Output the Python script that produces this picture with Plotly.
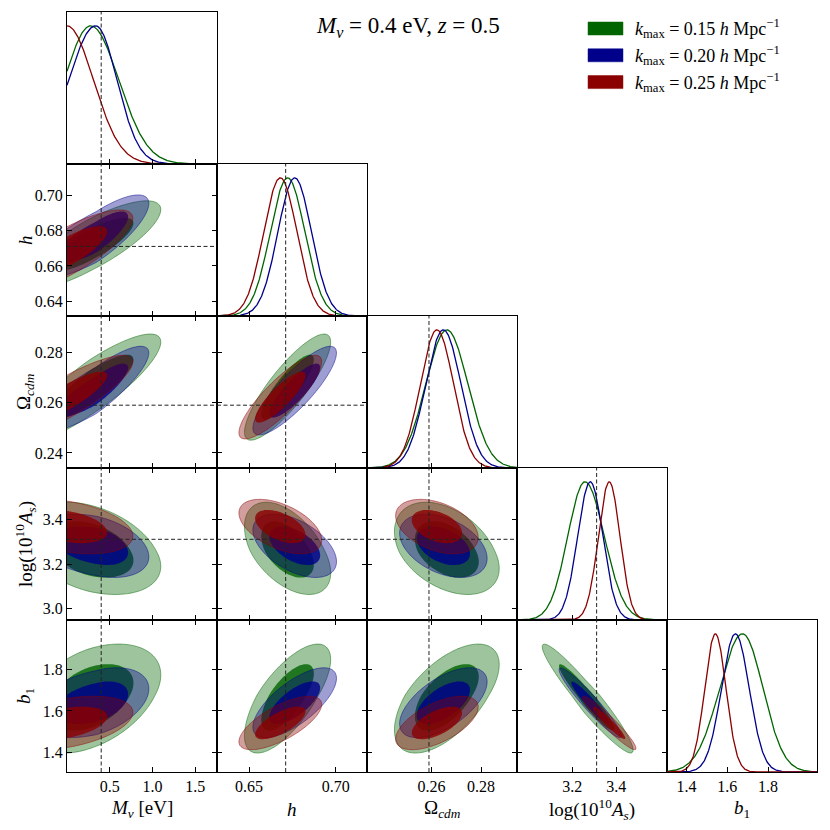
import numpy as np
import plotly.graph_objects as go
from plotly.subplots import make_subplots

# Parametres du triangle (ordre : M_nu, h, Omega_cdm, log(10^10 A_s), b1)
titres = ["<i>M</i><sub><i>ν</i></sub> [eV]", "<i>h</i>", "Ω<sub><i>cdm</i></sub>",
          "log(10<sup>10</sup><i>A</i><sub><i>s</i></sub>)", "<i>b</i><sub>1</sub>"]
fiduciel = [0.4, 0.6711, 0.259, 3.311, None]
bornes = [[0.0, 1.755], [0.6315, 0.718], [0.234, 0.2945], [2.95, 3.63], [1.305, 2.04]]
ticks_x = [[0.5, 1.0, 1.5], [0.65, 0.70], [0.26, 0.28], [3.2, 3.4], [1.4, 1.6, 1.8]]
ticks_y = [[], [0.64, 0.66, 0.68, 0.70], [0.24, 0.26, 0.28], [3.0, 3.2, 3.4], [1.4, 1.6, 1.8]]
formats = [".1f", ".2f", ".2f", ".1f", ".1f"]

# Les trois k_max
kmax = ["0.15", "0.20", "0.25"]
couleurs = [(0, 100, 0), (0, 0, 139), (139, 0, 0)]

moy = [
    [0.277, 0.6722, 0.2662, 3.258, 1.675],
    [0.336, 0.6763, 0.2648, 3.282, 1.640],
    [0.000, 0.6680, 0.2622, 3.368, 1.542],
]
sig_bas = [
    [0.310, 0.0100, 0.0085, 0.078, 0.112],
    [0.317, 0.0097, 0.0071, 0.057, 0.068],
    [0.310, 0.0096, 0.0067, 0.049, 0.052],
]
sig_haut = [
    [0.330, 0.0100, 0.0085, 0.088, 0.100],
    [0.250, 0.0097, 0.0071, 0.057, 0.068],
    [0.310, 0.0096, 0.0067, 0.049, 0.052],
]

# Correlations (ligne = parametre en y, colonne = parametre en x)
correl = [
    [1.00],
    [0.80, 1.00],
    [0.85, 0.85, 1.00],
    [-0.35, -0.50, -0.40, 1.00],
    [0.40, 0.70, 0.60, -0.95, 1.00],
]

# Niveaux 95% puis 68% (delta chi2 a 2 parametres)
niveaux = [6.18, 2.30]
alphas = [0.38, 0.8]

police = "Liberation Serif"


def reduite(x, k, p):
    mu = moy[k][p]
    return np.where(x < mu, (x - mu) / sig_bas[k][p], (x - mu) / sig_haut[k][p])


def rgba(c, a):
    return f"rgba({c[0]},{c[1]},{c[2]},{a})"


specs = [[{} if c <= r else None for c in range(5)] for r in range(5)]
fig = make_subplots(rows=5, cols=5, specs=specs,
                    horizontal_spacing=0, vertical_spacing=0)

for i in range(5):
    for j in range(i + 1):
        if i == j:
            # distributions 1D
            x = np.linspace(bornes[j][0], bornes[j][1], 300)
            for k in range(3):
                y = np.exp(-0.5 * reduite(x, k, j) ** 2)
                fig.add_trace(go.Scatter(x=x, y=y, mode="lines",
                                         line=dict(color=rgba(couleurs[k], 1), width=1.3),
                                         showlegend=False, hoverinfo="skip"),
                              row=i + 1, col=j + 1)
        else:
            # contours 2D (la zone coloree de plotly est celle exclue -> ">")
            dx = bornes[j][1] - bornes[j][0]
            dy = bornes[i][1] - bornes[i][0]
            gx = np.linspace(bornes[j][0] - 0.05 * dx, bornes[j][1] + 0.05 * dx, 90)
            gy = np.linspace(bornes[i][0] - 0.05 * dy, bornes[i][1] + 0.05 * dy, 90)
            r = correl[i][j]
            for k in range(3):
                U = reduite(gx, k, j)[None, :]
                V = reduite(gy, k, i)[:, None]
                Q = (U ** 2 - 2 * r * U * V + V ** 2) / (1 - r ** 2)
                Q = np.round(Q, 3)
                for n in range(2):
                    fig.add_trace(go.Contour(
                        x=gx, y=gy, z=Q,
                        contours=dict(type="constraint", operation=">", value=niveaux[n]),
                        fillcolor=rgba(couleurs[k], alphas[n]),
                        line=dict(color=rgba(couleurs[k], 0.6 if n == 0 else 0.0),
                                  width=0.8 if n == 0 else 0, smoothing=1),
                        showscale=False, hoverinfo="skip", showlegend=False),
                        row=i + 1, col=j + 1)

        # lignes fiducielles
        tiret = dict(color="#222", width=1, dash="4px,2.5px")
        if fiduciel[j] is not None:
            fig.add_vline(x=fiduciel[j], line=tiret, row=i + 1, col=j + 1)
        if i != j and fiduciel[i] is not None:
            fig.add_hline(y=fiduciel[i], line=tiret, row=i + 1, col=j + 1)

        # axes
        commun = dict(showgrid=False, zeroline=False, showline=True, linecolor="black",
                      linewidth=1, ticks="inside", ticklen=5, tickwidth=1,
                      tickcolor="black", tickfont=dict(family=police, size=16, color="black"))
        fig.update_xaxes(commun, range=bornes[j], tickvals=ticks_x[j], tickformat=formats[j],
                         mirror=True if i == j else "ticks",
                         showticklabels=(i == 4), row=i + 1, col=j + 1)
        if i == j:
            fig.update_yaxes(commun, range=[0, 1.1], ticks="", showticklabels=False,
                             mirror=True, row=i + 1, col=j + 1)
        else:
            fig.update_yaxes(commun, range=bornes[i], tickvals=ticks_y[i],
                             tickformat=formats[i], mirror="ticks",
                             showticklabels=(j == 0), row=i + 1, col=j + 1)

# titres des axes
for p in range(5):
    fig.add_annotation(text=titres[p], xref="paper", yref="paper",
                       x=(p + 0.5) / 5, y=-0.049, showarrow=False,
                       xanchor="center", yanchor="middle",
                       font=dict(family=police, size=19, color="black"))
    if p > 0:
        fig.add_annotation(text=titres[p], xref="paper", yref="paper",
                           x=-0.056, y=1 - (p + 0.5) / 5, showarrow=False, textangle=-90,
                           xanchor="center", yanchor="middle",
                           font=dict(family=police, size=19, color="black"))

# titre
fig.add_annotation(text="<i>M</i><sub><i>ν</i></sub> = 0.4 eV, <i>z</i> = 0.5",
                   xref="paper", yref="paper", x=0.454, y=0.980, showarrow=False,
                   xanchor="center", yanchor="middle",
                   font=dict(family=police, size=23, color="black"))

# legende faite a la main
for k in range(3):
    yc = 1 - (16.5 + 26.8 * k) / 760
    fig.add_shape(type="rect", xref="paper", yref="paper",
                  x0=0.6947, x1=0.7413, y0=yc - 6.5 / 760, y1=yc + 6.5 / 760,
                  fillcolor=rgba(couleurs[k], 1), line=dict(color=rgba(couleurs[k], 1), width=0.5))
    fig.add_annotation(text=f"<i>k</i><sub>max</sub> = {kmax[k]} <i>h</i> Mpc<sup>−1</sup>",
                       xref="paper", yref="paper", x=0.7547, y=yc, showarrow=False,
                       xanchor="left", yanchor="middle",
                       font=dict(family=police, size=18, color="black"))

fig.update_layout(width=830, height=830,
                  margin=dict(l=67, r=13, t=12, b=58),
                  plot_bgcolor="white", paper_bgcolor="white",
                  font=dict(family=police, color="black"))

fig.write_html("out.html", config={"displayModeBar": False},
               post_script="document.body.style.margin='0';")
